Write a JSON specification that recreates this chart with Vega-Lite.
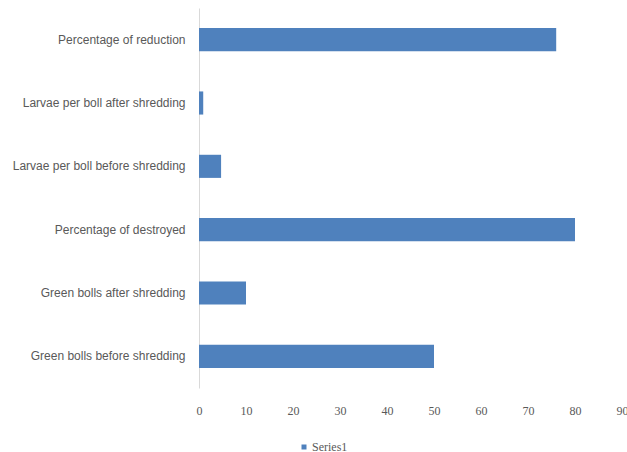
{
  "$schema": "https://vega.github.io/schema/vega-lite/v6.json",
  "width": 423,
  "height": 380,
  "autosize": {"type": "none"},
  "padding": {"left": 199, "top": 8, "right": 5, "bottom": 64},
  "background": "white",
  "config": {"view": {"stroke": null}},
  "data": {
    "values": [
      {"category": "Green bolls before shredding", "value": 50, "series": "Series1"},
      {"category": "Green bolls after shredding", "value": 10, "series": "Series1"},
      {"category": "Percentage of destroyed", "value": 80, "series": "Series1"},
      {"category": "Larvae per boll before shredding", "value": 4.7, "series": "Series1"},
      {"category": "Larvae per boll after shredding", "value": 0.9, "series": "Series1"},
      {"category": "Percentage of reduction", "value": 76, "series": "Series1"}
    ]
  },
  "mark": {"type": "bar"},
  "encoding": {
    "y": {
      "field": "category",
      "type": "nominal",
      "sort": ["Percentage of reduction", "Larvae per boll after shredding", "Larvae per boll before shredding", "Percentage of destroyed", "Green bolls after shredding", "Green bolls before shredding"],
      "scale": {"paddingInner": 0.635, "paddingOuter": 0.3175},
      "axis": {
        "title": null,
        "ticks": false,
        "labelPadding": 14,
        "labelFont": "Liberation Sans",
        "labelFontSize": 12,
        "labelColor": "#595959",
        "domainColor": "#d9d9d9",
        "labelLimit": 300
      }
    },
    "x": {
      "field": "value",
      "type": "quantitative",
      "scale": {"domain": [0, 90], "nice": false},
      "axis": {
        "title": null,
        "values": [0, 10, 20, 30, 40, 50, 60, 70, 80, 90],
        "grid": false,
        "ticks": false,
        "domain": false,
        "labelPadding": 17,
        "labelFont": "Liberation Serif",
        "labelFontSize": 12,
        "labelColor": "#595959",
        "labelFlush": false
      }
    },
    "color": {
      "field": "series",
      "type": "nominal",
      "scale": {"range": ["#4F81BD"]},
      "legend": {
        "title": null,
        "orient": "none",
        "legendX": 99,
        "legendY": 433,
        "symbolType": "square",
        "symbolSize": 25,
        "labelFont": "Liberation Serif",
        "labelFontSize": 12,
        "labelColor": "#595959",
        "labelOffset": 2
      }
    }
  }
}
